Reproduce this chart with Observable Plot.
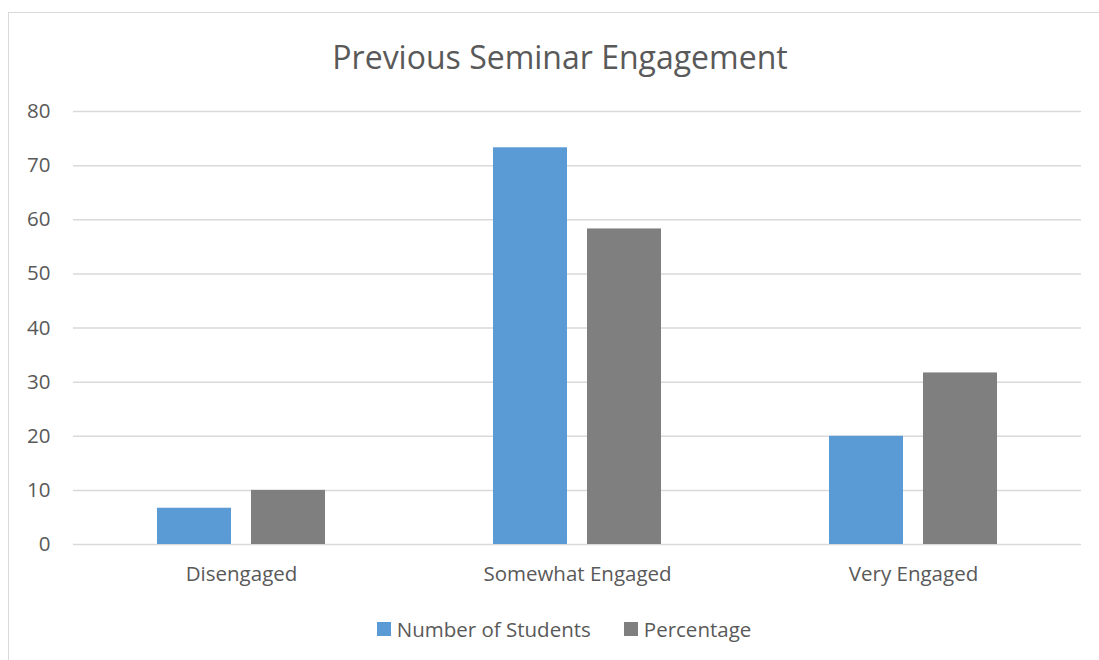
<!DOCTYPE html>
<html>
<head>
<meta charset="utf-8">
<script src="https://cdn.jsdelivr.net/npm/d3@7"></script>
<script src="https://cdn.jsdelivr.net/npm/@observablehq/plot@0.6"></script>
<style>
  html, body { margin: 0; padding: 0; background: #fff; }
  body { width: 1099px; height: 660px; overflow: hidden; position: relative; font-family: "Open Sans", sans-serif; color: #595959; }
  #frame { position: absolute; left: 8px; top: 12px; width: 1100px; height: 700px; border-left: 1.5px solid #d9d9d9; border-top: 1.5px solid #d9d9d9; }
  #title { position: absolute; left: 0; top: 37px; width: 1120px; text-align: center; font-size: 32px; line-height: 40px; color: #595959; }
  #chart { position: absolute; left: 0; top: 90px; }
  #legend { position: absolute; left: 0; top: 614px; width: 1128px; display: flex; justify-content: center; gap: 33px; font-size: 20.5px; line-height: 30px; }
  .item { display: flex; align-items: center; }
  .sw { width: 14px; height: 14px; margin-right: 6px; }
</style>
</head>
<body>
<div id="frame"></div>
<div id="title">Previous Seminar Engagement</div>
<div id="chart"></div>
<div id="legend"></div>
<script>
const categories = ["Disengaged", "Somewhat Engaged", "Very Engaged"];
const seriesNames = ["Number of Students", "Percentage"];
const numberOfStudents = [6.7, 73.3, 20.0];
const percentage = [10.0, 58.3, 31.7];
const seriesColors = ["#5b9bd5", "#7f7f7f"];
const yTicks = [0, 10, 20, 30, 40, 50, 60, 70, 80];

const data = [];
categories.forEach((c, i) => {
  data.push({category: c, series: seriesNames[0], value: numberOfStudents[i]});
  data.push({category: c, series: seriesNames[1], value: percentage[i]});
});

const chart = Plot.plot({
  width: 1099,
  height: 510,
  marginLeft: 72,
  marginRight: 18,
  marginTop: 21,
  marginBottom: 56,
  style: {fontSize: "20.5px", fontFamily: "'Open Sans', sans-serif", color: "#595959", background: "transparent"},
  fx: {domain: categories, padding: 0, label: null, axis: "bottom", tickSize: 0, tickPadding: 22},
  x: {domain: seriesNames, paddingInner: 0.21, paddingOuter: 0.874, axis: null},
  y: {domain: [0, 80], ticks: yTicks, label: null, tickSize: 0, tickPadding: 23, tickFormat: d => String(d)},
  color: {domain: seriesNames, range: seriesColors},
  marks: [
    Plot.gridY(yTicks, {stroke: "#d9d9d9", strokeOpacity: 1, strokeWidth: 1.5}),
    Plot.barY(data, {fx: "category", x: "series", y: "value", fill: "series"})
  ]
});
document.getElementById("chart").appendChild(chart);

const legend = document.getElementById("legend");
seriesNames.forEach((s, i) => {
  const item = document.createElement("div");
  item.className = "item";
  const sw = document.createElement("span");
  sw.className = "sw";
  sw.style.background = seriesColors[i];
  const t = document.createElement("span");
  t.textContent = s;
  item.appendChild(sw);
  item.appendChild(t);
  legend.appendChild(item);
});
</script>
</body>
</html>
